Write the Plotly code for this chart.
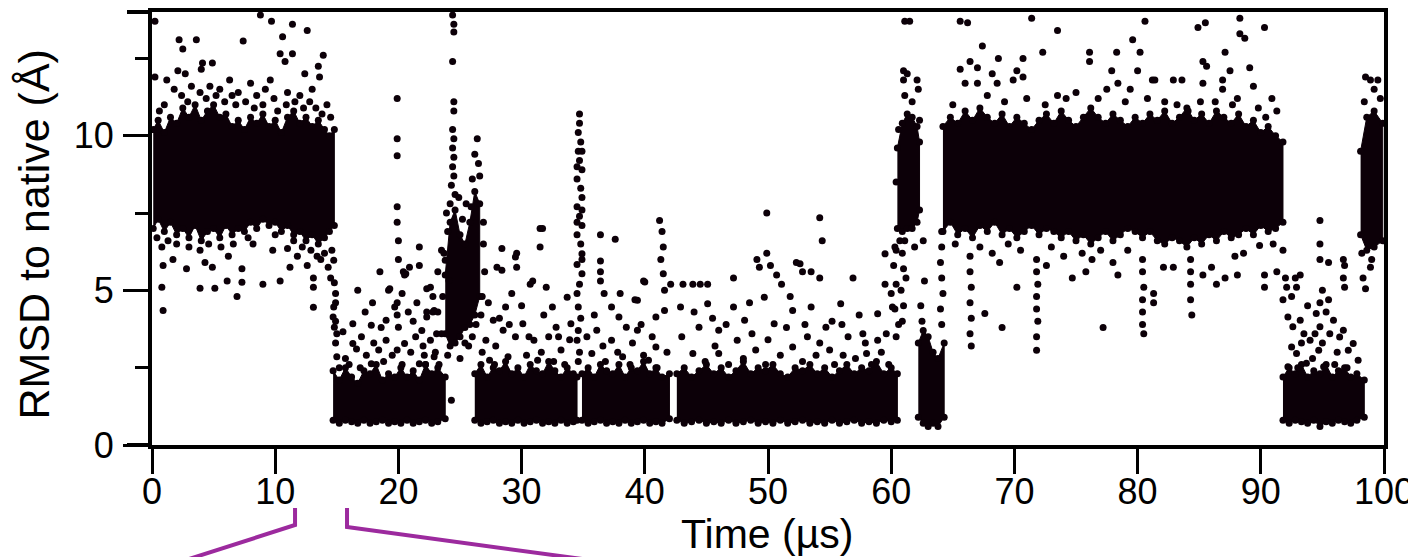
import plotly.graph_objects as go

# --- dense cores of the trajectory (time in us, RMSD envelope in A) ---
a_t = [0.1, 0.5, 1, 1.5, 2, 2.5, 3, 3.5, 4, 4.5, 5, 5.5, 6, 6.5, 7, 7.5, 8, 8.5, 9, 9.5, 10,
       10.5, 11, 11.5, 12, 12.5, 13, 13.5, 14, 14.4, 14.8]
a_hi = [10.2, 10.5, 10.1, 10.6, 10.4, 10.9, 10.6, 11.0, 10.5, 10.8, 11.0, 10.6, 10.7, 10.3, 10.5, 10.2,
        10.6, 10.4, 10.7, 10.3, 10.5, 10.1, 10.6, 10.8, 10.4, 10.6, 10.3, 10.5, 10.2, 10.0, 10.2]
a_lo = [7.0, 7.3, 6.9, 7.2, 6.8, 7.0, 6.7, 7.1, 6.6, 6.9, 7.0, 6.7, 7.1, 6.8, 7.0, 6.9,
        7.2, 7.0, 7.3, 7.1, 7.2, 6.9, 7.1, 6.8, 6.9, 6.6, 6.8, 6.5, 6.7, 6.9, 7.1]

b_t = [14.7, 15.2, 15.7, 16.2, 16.7, 17.2, 17.7, 18.2, 18.7, 19.2, 19.7, 20.2, 20.7, 21.2, 21.7,
       22.2, 22.7, 23.2, 23.8]
b_hi = [2.4, 2.1, 2.5, 2.2, 2.0, 2.4, 2.3, 2.6, 2.1, 2.3, 2.2, 2.5, 2.2, 2.4, 2.1, 2.6, 2.3, 2.5, 2.2]
b_lo = [0.8, 0.7, 0.8, 0.75, 0.7, 0.8, 0.7, 0.75, 0.8, 0.7, 0.75, 0.7, 0.8, 0.7, 0.75, 0.8, 0.7, 0.75, 0.85]

p_t = [23.8, 24.2, 24.6, 25.0, 25.4, 25.8, 26.2, 26.6]
p_hi = [5.5, 7.2, 7.6, 6.8, 6.5, 7.2, 8.2, 7.8]
p_lo = [3.6, 3.2, 3.3, 3.5, 3.8, 3.9, 4.2, 4.8]

c_t = [26.2, 26.7, 27.2, 27.7, 28.2, 28.7, 29.2, 29.7, 30.2, 30.7, 31.2, 31.7, 32.2, 32.7, 33.2,
       33.7, 34.2, 34.5]
c_hi = [2.3, 2.6, 2.2, 2.5, 2.4, 2.7, 2.3, 2.5, 2.2, 2.6, 2.4, 2.3, 2.7, 2.4, 2.2, 2.5, 2.3, 2.2]
c_lo = [0.8, 0.7, 0.75, 0.8, 0.7, 0.75, 0.7, 0.8, 0.7, 0.75, 0.8, 0.7, 0.75, 0.7, 0.8, 0.7, 0.75, 0.8]

d_t = [34.9, 35.4, 35.9, 36.4, 36.9, 37.4, 37.9, 38.4, 38.9, 39.4, 39.9, 40.4, 40.9, 41.4, 42.0]
d_hi = [2.3, 2.5, 2.2, 2.6, 2.4, 2.3, 2.6, 2.2, 2.5, 2.4, 2.7, 2.3, 2.5, 2.2, 2.3]
d_lo = [0.8, 0.7, 0.75, 0.8, 0.7, 0.75, 0.7, 0.8, 0.7, 0.75, 0.8, 0.7, 0.75, 0.7, 0.85]

e_t = [42.6, 43.2, 43.8, 44.4, 45.0, 45.6, 46.2, 46.8, 47.4, 48.0, 48.6, 49.2, 49.8, 50.4, 51.0,
       51.6, 52.2, 52.8, 53.4, 54.0, 54.6, 55.2, 55.8, 56.4, 57.0, 57.6, 58.2, 58.8, 59.4, 60.0, 60.5]
e_hi = [2.3, 2.5, 2.2, 2.4, 2.6, 2.3, 2.5, 2.2, 2.4, 2.7, 2.3, 2.5, 2.4, 2.6, 2.3, 2.2,
        2.5, 2.4, 2.6, 2.3, 2.5, 2.2, 2.4, 2.6, 2.3, 2.5, 2.4, 2.7, 2.3, 2.5, 2.3]
e_lo = [0.8, 0.7, 0.75, 0.8, 0.7, 0.75, 0.7, 0.8, 0.7, 0.75, 0.8, 0.7, 0.75, 0.7, 0.8, 0.7,
        0.75, 0.8, 0.7, 0.75, 0.7, 0.8, 0.7, 0.75, 0.8, 0.7, 0.75, 0.7, 0.8, 0.75, 0.8]

s_t = [60.5, 60.9, 61.3, 61.7, 62.1, 62.3]
s_hi = [9.6, 10.4, 10.7, 10.6, 10.3, 9.8]
s_lo = [7.0, 6.9, 7.0, 7.0, 7.2, 7.6]

g1_t = [62.2, 62.6, 63.0, 63.4, 63.8, 64.3]
g1_hi = [3.3, 3.7, 3.5, 3.0, 2.8, 3.3]
g1_lo = [0.9, 0.7, 0.6, 0.7, 0.6, 0.9]

f_t = [64.2, 64.8, 65.4, 66.0, 66.6, 67.2, 67.8, 68.4, 69.0, 69.6, 70.2, 70.8, 71.4, 72.0, 72.6,
       73.2, 73.8, 74.4, 75.0, 75.6, 76.2, 76.8, 77.4, 78.0, 78.6, 79.2, 79.8, 80.4, 81.0, 81.6,
       82.2, 82.8, 83.4, 84.0, 84.6, 85.2, 85.8, 86.4, 87.0, 87.6, 88.2, 88.8, 89.4, 90.0, 90.6,
       91.2, 91.8]
f_hi = [10.3, 10.6, 10.4, 10.8, 10.5, 10.9, 10.6, 10.4, 10.7, 10.3, 10.6, 10.4, 10.2, 10.5, 10.7,
        10.4, 10.8, 10.5, 10.3, 10.6, 10.9, 10.6, 10.4, 10.7, 10.5, 10.3, 10.6, 10.4, 10.7, 10.5,
        10.8, 10.4, 10.6, 10.9, 10.5, 10.7, 10.4, 10.8, 10.6, 10.4, 10.7, 10.3, 10.5, 10.1, 10.3,
        10.0, 9.8]
f_lo = [6.9, 7.2, 6.8, 7.0, 6.7, 7.1, 6.9, 7.2, 6.8, 7.0, 6.7, 6.9, 7.1, 6.8, 7.0,
        6.9, 6.7, 6.9, 6.6, 6.8, 6.5, 6.7, 6.9, 6.6, 6.8, 7.0, 6.9, 6.7, 6.9, 6.6,
        6.5, 6.7, 6.6, 6.4, 6.7, 6.5, 6.8, 6.6, 6.9, 6.7, 6.8, 7.0, 6.8, 7.1, 6.9,
        7.0, 7.2]

g_t = [91.8, 92.3, 92.8, 93.3, 93.8, 94.3, 94.8, 95.3, 95.8, 96.3, 96.8, 97.3, 97.8, 98.4]
g_hi = [2.2, 2.5, 2.3, 2.6, 2.2, 2.4, 2.3, 2.6, 2.2, 2.4, 2.5, 2.2, 2.3, 2.1]
g_lo = [0.8, 0.7, 0.8, 0.75, 0.7, 0.8, 0.6, 0.75, 0.7, 0.8, 0.75, 0.7, 0.8, 0.9]

h_t = [98.1, 98.6, 99.2, 99.9]
h_hi = [9.5, 10.6, 10.8, 10.4]
h_lo = [6.8, 6.3, 6.4, 6.6]

# --- individual frames outside the dense cores (time, RMSD) ---
dots_a = [(0.24, 13.7), (2.2, 13.1), (3.6, 13.1), (2.5, 12.8), (7.4, 13.06), (8.8, 13.9), (9.7, 13.7),
          (11.4, 13.6), (12.6, 13.4), (10.6, 13.2), (10.4, 12.65), (11.4, 12.65), (10.8, 12.4),
          (13.9, 12.6), (13.5, 12.25), (4.1, 12.35), (4.9, 12.35), (4.0, 12.15), (2.1, 12.1),
          (2.7, 12.0), (12.4, 12.0), (13.6, 11.9), (1.2, 11.8), (6.3, 11.8), (8.0, 11.7), (9.6, 11.8),
          (0.24, 11.9), (1.8, 11.5), (3.2, 11.6), (5.5, 11.5), (7.0, 11.4), (8.5, 11.3), (9.2, 11.5),
          (11.0, 11.4), (12.0, 11.3), (13.0, 11.5), (14.2, 11.0), (14.5, 10.6), (0.6, 10.8), (6.5, 11.3),
          (1.0, 11.0), (2.4, 11.3), (2.9, 11.1), (3.9, 11.4), (4.4, 11.2), (4.7, 11.6), (5.2, 11.3),
          (5.9, 11.1), (6.8, 11.0), (7.6, 11.1), (8.3, 10.9), (9.0, 11.0), (9.9, 11.2), (10.2, 10.8),
          (10.9, 11.0), (11.6, 11.1), (12.3, 10.9), (12.8, 11.1), (13.3, 10.9), (13.8, 10.7),
          (0.8, 6.4), (1.7, 6.0), (0.9, 5.8), (0.8, 5.1), (0.9, 4.35), (2.8, 5.7), (3.9, 6.3), (4.3, 5.9),
          (4.9, 5.75), (3.9, 5.07), (5.1, 5.07), (6.2, 6.1), (6.1, 5.3), (6.9, 4.8), (7.3, 5.7),
          (7.3, 5.26), (9.0, 5.2), (10.4, 5.3), (11.2, 5.75), (11.0, 6.35), (11.8, 6.1), (12.6, 5.8),
          (13.1, 5.4), (13.1, 5.1), (13.1, 4.45), (13.4, 6.1), (2.0, 6.5), (5.6, 6.4), (8.2, 6.5),
          (9.8, 6.3), (12.2, 6.4), (14.0, 6.2), (14.6, 6.3), (0.4, 6.7), (1.3, 6.6), (3.0, 6.4),
          (4.6, 6.5), (6.6, 6.5), (7.8, 6.7), (10.0, 6.8), (11.5, 6.6), (12.9, 6.3), (13.7, 6.0),
          (14.3, 5.75), (14.5, 5.4), (14.8, 5.25), (14.9, 4.9), (14.9, 4.6), (14.75, 5.97), (14.75, 4.46),
          (14.9, 4.0), (15.0, 3.6), (14.9, 3.3), (15.0, 2.85), (15.2, 2.5), (14.7, 4.14), (14.8, 3.81)]

dots_b = [(16.7, 5.0), (18.5, 5.6), (19.2, 5.0), (19.9, 11.2), (19.9, 9.9), (19.9, 9.35), (19.9, 7.7),
          (19.9, 7.2), (20.0, 6.6), (20.0, 6.0), (20.4, 5.6), (19.9, 4.6), (19.9, 4.2),
          (17.3, 4.3), (19.3, 5.05), (17.8, 3.87), (16.3, 3.92), (15.5, 3.66), (15.7, 2.8), (16.9, 2.5),
          (17.8, 2.63), (19.0, 3.39), (19.0, 4.03), (19.7, 4.46), (20.0, 3.81), (20.5, 3.28),
          (20.6, 5.54), (20.9, 5.75), (21.7, 6.4), (21.7, 5.8), (21.7, 2.63), (22.3, 5.05), (22.3, 4.14),
          (22.9, 4.35), (22.6, 3.39), (22.9, 2.85), (23.5, 3.6), (23.8, 5.97), (24.1, 5.32), (21.4, 3.5),
          (19.9, 3.07), (18.4, 3.07), (16.3, 3.28), (20.5, 5.5), (22.6, 5.1), (22.8, 4.8), (22.3, 4.3),
          (22.8, 4.3), (23.2, 4.3), (17.0, 3.5), (18.0, 3.3), (18.8, 2.7), (19.5, 2.9), (20.3, 2.6),
          (21.0, 3.0), (21.2, 4.0), (22.0, 3.2), (22.2, 2.6), (23.0, 3.0), (23.3, 2.6), (16.0, 2.6),
          (16.6, 3.1), (17.4, 2.9), (20.8, 4.3), (21.9, 3.7), (17.9, 4.6), (18.6, 3.8), (20.3, 4.9),
          (21.5, 4.6), (22.1, 2.9), (23.1, 3.6)]

dots_p = [(24.4, 13.9), (24.5, 13.6), (24.5, 13.35), (24.4, 12.4), (24.5, 11.1), (24.5, 10.8),
          (24.4, 10.2), (24.5, 9.9), (24.4, 9.6), (24.5, 9.3), (24.4, 9.0), (24.5, 8.7),
          (24.3, 8.4), (24.6, 8.1), (24.2, 7.8), (23.9, 7.5), (24.0, 6.9), (23.7, 6.2), (23.6, 4.8),
          (26.4, 9.9), (26.5, 9.1), (26.2, 9.4), (26.6, 8.7), (26.0, 8.6), (23.5, 6.3), (23.2, 5.6),
          (24.9, 8.0), (25.5, 7.8), (25.2, 7.3), (25.9, 7.7), (26.9, 7.2), (26.9, 6.5), (27.0, 5.6),
          (26.7, 4.2), (24.3, 1.45), (25.0, 2.8), (25.7, 3.2), (26.0, 3.5), (24.0, 2.9), (25.4, 3.3),
          (26.3, 3.9), (26.8, 4.8)]

dots_c = [(28.4, 6.35), (28.0, 5.75), (29.6, 6.2), (29.6, 5.75), (31.5, 7.0), (31.7, 7.0), (31.5, 6.4),
          (30.9, 5.3), (32.0, 5.1), (27.1, 3.39), (27.7, 4.03), (28.4, 5.65), (28.7, 4.46), (29.5, 6.08),
          (30.1, 3.92), (30.7, 5.2), (31.0, 3.39), (32.5, 4.46), (32.8, 3.81), (33.2, 3.07), (33.7, 4.78),
          (34.0, 3.92), (28.9, 2.85), (27.4, 2.74), (31.3, 2.74), (32.2, 3.5), (29.5, 3.5), (28.5, 3.71),
          (26.8, 3.0), (27.9, 3.2), (29.0, 3.9), (30.4, 2.9), (31.6, 3.0), (32.6, 2.7), (33.5, 2.6),
          (33.9, 3.4), (30.0, 4.5), (27.3, 4.6), (29.2, 4.9), (27.8, 2.6), (30.6, 3.5), (31.8, 4.2),
          (33.0, 3.5), (28.2, 4.1)]

dots_35 = [(34.7, 10.7), (34.7, 10.4), (34.6, 10.1), (34.8, 9.8), (34.6, 9.5), (34.7, 9.2), (34.9, 8.9),
           (34.5, 8.6), (34.8, 8.3), (34.9, 8.0), (34.5, 7.7), (34.7, 7.4), (34.9, 7.1), (34.5, 6.8),
           (34.8, 6.5), (34.9, 6.18), (34.5, 5.84), (34.9, 5.54), (34.7, 5.2), (34.5, 4.9), (34.6, 4.46),
           (34.8, 4.1), (34.6, 3.7), (34.5, 3.39), (34.7, 3.0), (34.6, 2.7), (34.9, 9.5), (34.5, 9.0),
           (34.9, 7.6), (34.5, 7.2), (34.9, 6.0)]

dots_d = [(36.4, 6.8), (37.6, 6.65), (36.4, 5.95), (36.4, 5.6), (36.4, 5.3), (39.9, 5.3), (39.2, 4.7),
          (41.2, 7.26), (36.7, 4.9), (37.3, 4.46), (37.9, 4.14), (38.5, 3.81), (39.4, 4.68), (39.4, 3.71),
          (40.0, 5.27), (36.1, 3.71), (37.3, 3.39), (35.7, 2.96), (38.2, 2.85), (40.9, 4.14), (41.5, 6.4),
          (41.5, 5.54), (41.6, 5.0), (41.6, 4.35), (40.9, 3.17), (40.3, 2.74), (41.4, 6.9), (41.3, 6.0),
          (35.3, 3.5), (36.8, 2.7), (37.8, 3.0), (38.8, 2.6), (39.0, 3.3), (39.9, 2.9), (41.0, 2.5),
          (41.8, 3.0), (35.9, 4.2), (38.0, 4.9), (36.6, 3.2), (39.7, 3.9), (40.6, 3.5)]

dots_e = [(49.9, 7.5), (54.2, 7.35), (54.4, 6.6), (43.1, 5.2), (43.9, 5.2), (44.5, 5.2), (45.1, 5.2),
          (47.2, 5.4), (49.1, 6.0), (49.9, 6.2), (50.2, 5.8), (50.7, 5.5), (52.3, 5.9), (52.8, 5.6),
          (53.5, 5.6), (54.2, 5.4), (56.9, 5.4), (42.1, 5.2), (42.9, 4.46), (44.4, 3.81), (45.1, 4.57),
          (46.0, 3.71), (47.2, 4.46), (48.1, 4.03), (49.3, 5.75), (51.1, 5.2), (49.7, 4.78), (50.5, 3.92),
          (52.0, 4.35), (52.6, 5.86), (53.5, 4.46), (54.7, 3.81), (55.9, 4.57), (57.7, 3.6), (58.9, 4.24),
          (59.5, 5.2), (59.5, 6.18), (60.1, 4.46), (46.0, 2.96), (49.0, 3.07), (52.0, 3.17),
          (55.0, 3.07), (58.0, 2.96), (43.9, 2.96), (47.5, 3.39), (53.2, 3.5), (56.5, 3.5), (58.9, 3.39),
          (43.0, 3.5), (44.9, 2.7), (45.7, 3.2), (46.8, 2.6), (48.0, 2.8), (48.7, 3.6), (49.8, 2.6),
          (51.0, 2.9), (51.5, 3.8), (52.8, 2.7), (53.9, 2.9), (54.2, 3.3), (55.4, 2.6), (56.0, 3.9),
          (57.1, 2.8), (57.4, 4.2), (58.4, 2.6), (59.2, 3.0), (59.8, 2.6), (45.5, 4.1), (48.5, 4.6),
          (51.8, 4.8), (55.2, 4.0), (44.0, 4.3), (46.6, 3.9), (50.0, 3.4), (53.0, 3.9), (56.1, 2.9),
          (57.9, 3.3), (59.6, 3.6)]

dots_s = [(61.5, 13.7), (61.1, 13.7), (61.0, 12.1), (61.0, 11.8), (61.1, 11.3), (61.3, 12.0),
          (62.1, 11.8), (62.2, 11.5), (61.7, 11.1), (60.6, 10.2), (62.3, 10.5), (60.4, 8.5),
          (60.4, 6.3), (60.3, 6.4), (60.2, 5.8), (60.4, 5.2),
          (60.0, 4.9), (60.3, 4.4), (60.6, 3.9), (60.4, 3.5), (60.9, 6.2), (61.0, 5.7), (60.8, 5.0),
          (61.0, 4.5), (61.1, 6.6), (60.7, 6.6), (61.2, 5.4), (60.9, 4.0), (62.7, 5.3), (62.6, 6.6),
          (61.9, 6.4), (62.4, 4.5), (62.5, 4.0), (64.1, 6.9), (64.1, 6.4), (64.0, 5.9), (64.1, 5.4),
          (64.2, 4.9), (64.0, 4.4), (64.1, 3.9)]

dots_f = [(65.6, 13.7), (66.2, 13.65), (71.4, 13.8), (73.5, 13.4), (80.6, 13.7), (67.4, 12.9),
          (68.7, 12.5), (70.7, 12.5), (72.3, 12.7), (66.4, 12.4), (65.6, 12.15), (67.0, 12.2),
          (68.2, 12.0), (70.2, 12.1), (70.7, 11.9), (76.1, 12.7), (76.1, 12.4), (78.3, 12.7),
          (79.6, 13.1), (80.2, 12.7), (77.9, 12.1), (80.0, 12.1), (66.0, 11.7), (67.0, 11.7),
          (73.5, 11.3), (68.6, 11.7), (69.9, 11.8), (78.4, 11.7), (79.4, 11.5), (81.2, 11.8),
          (84.9, 13.5), (85.5, 13.65), (88.3, 13.8), (88.3, 13.3), (88.7, 13.15), (90.3, 13.5),
          (87.1, 12.7), (85.3, 12.4), (85.6, 12.25), (89.1, 12.2), (87.5, 12.1), (81.4, 11.8),
          (82.9, 11.8), (83.6, 11.8), (85.3, 11.7), (86.9, 11.8), (86.9, 11.5), (89.4, 11.6),
          (88.1, 11.2), (90.9, 11.2), (91.3, 10.8), (85.1, 11.1), (86.3, 11.1), (83.2, 11.0),
          (84.1, 10.8), (65.0, 11.0), (67.8, 11.3), (69.2, 11.1), (71.0, 11.2), (72.5, 11.0),
          (74.2, 11.2), (75.0, 11.4), (76.8, 11.2), (77.5, 11.5), (79.0, 11.1), (80.8, 11.2),
          (82.2, 11.1), (87.7, 11.0), (89.8, 10.9), (90.4, 10.6),
          (66.4, 6.1), (66.4, 5.6), (66.5, 5.1), (66.4, 4.6), (66.5, 4.1), (66.4, 3.6), (66.5, 3.2),
          (71.8, 6.0), (71.8, 5.6), (71.9, 5.2), (71.8, 4.8), (71.8, 4.4), (71.9, 4.0), (71.8, 3.5),
          (71.8, 3.06), (69.0, 3.8), (67.6, 4.25), (77.2, 3.8), (70.2, 5.1), (74.7, 5.4), (78.4, 5.5),
          (80.4, 6.0), (80.4, 5.6), (80.5, 5.1), (80.4, 4.7), (80.4, 4.3), (80.4, 3.9), (80.5, 3.6),
          (84.4, 4.2), (84.3, 6.0), (84.3, 5.6), (84.3, 5.2), (84.3, 4.7), (81.3, 4.9), (81.3, 4.6),
          (82.9, 5.75), (82.1, 5.75), (85.3, 5.5), (86.4, 5.2), (87.1, 5.4), (88.1, 5.5), (86.0, 5.75),
          (87.9, 6.1), (88.6, 6.2), (89.9, 6.45), (91.0, 6.5), (91.8, 6.3), (90.3, 5.5), (90.3, 5.1),
          (91.3, 5.6), (65.2, 6.5), (67.2, 6.4), (68.2, 6.2), (69.5, 6.5), (70.5, 6.3), (73.0, 6.4),
          (74.0, 6.1), (75.5, 6.2), (76.3, 6.0), (77.0, 6.3), (78.0, 5.9), (79.2, 6.3), (68.8, 5.9),
          (72.6, 5.8), (75.8, 5.6)]

dots_g = [(92.0, 5.4), (92.1, 5.1), (91.8, 4.7), (92.8, 5.4), (93.2, 5.5), (92.9, 5.1), (92.5, 4.8),
          (94.8, 7.26), (94.8, 6.5), (94.8, 6.0), (95.5, 5.9), (95.0, 5.0), (95.5, 4.7), (96.7, 6.0),
          (96.8, 5.8), (96.7, 5.4), (96.8, 5.1), (94.8, 4.6), (92.2, 4.14), (92.6, 3.82), (93.2, 4.03),
          (93.5, 3.6), (94.0, 3.39), (94.5, 4.25), (94.8, 3.82), (94.7, 3.06), (95.1, 2.53), (95.6, 3.6),
          (95.9, 4.03), (96.4, 3.49), (96.7, 3.71), (97.1, 3.06), (97.5, 3.28), (97.9, 2.74),
          (92.9, 2.96), (93.7, 2.64), (92.2, 2.53), (92.5, 3.17), (93.0, 2.5), (94.2, 2.8), (96.0, 2.6),
          (97.0, 2.5), (93.8, 4.5), (95.3, 4.3), (93.3, 3.3), (94.4, 3.6), (95.0, 3.3), (96.2, 3.0)]

dots_h = [(98.5, 11.9), (98.9, 11.8), (99.2, 11.5), (99.5, 11.8), (98.9, 5.75), (98.3, 5.4),
          (98.5, 5.05), (98.2, 6.2), (99.0, 6.0), (98.4, 11.1), (99.7, 11.2)]

x_ticks = [0, 10, 20, 30, 40, 50, 60, 70, 80, 90, 100]
y_ticks = [0, 5, 10]
y_minor = [2.5, 7.5, 12.5]

INK = "#0c0008"
MAGENTA = "#9c2a9e"
FONT = "Liberation Sans, Arial, sans-serif"

bands = [(a_t, a_lo, a_hi), (b_t, b_lo, b_hi), (p_t, p_lo, p_hi), (c_t, c_lo, c_hi),
         (d_t, d_lo, d_hi), (e_t, e_lo, e_hi), (s_t, s_lo, s_hi), (g1_t, g1_lo, g1_hi),
         (f_t, f_lo, f_hi), (g_t, g_lo, g_hi), (h_t, h_lo, h_hi)]

fig = go.Figure()

edge_x, edge_y = [], []
for t, lo, hi in bands:
    fig.add_trace(go.Scatter(
        x=t + t[::-1], y=hi + lo[::-1], mode="lines", fill="toself",
        fillcolor=INK, line=dict(color=INK, width=1), hoverinfo="skip", showlegend=False,
    ))
    edge_x += t + t
    edge_y += hi + lo

all_dots = dots_a + dots_b + dots_p + dots_c + dots_35 + dots_d + dots_e + dots_s + dots_f + dots_g + dots_h
fig.add_trace(go.Scatter(
    x=edge_x + [p[0] for p in all_dots],
    y=edge_y + [p[1] for p in all_dots],
    mode="markers", marker=dict(size=7, color=INK), showlegend=False,
))

axis_common = dict(
    showgrid=False, zeroline=False, showline=True, linewidth=4, linecolor="black",
    mirror=True, ticks="outside", ticklen=25, tickwidth=3, tickcolor="black",
    tickfont=dict(family=FONT, size=36, color="black"), automargin=False,
)
fig.update_xaxes(range=[0, 100], tickvals=x_ticks, ticklabelstandoff=-13, **axis_common)
fig.update_yaxes(range=[0, 14], tickvals=y_ticks, ticklabelstandoff=2,
                 minor=dict(tickvals=y_minor, ticklen=13, tickwidth=3,
                            tickcolor="black", ticks="outside"),
                 **axis_common)

# axis titles
fig.add_annotation(text="Time (\u00b5s)", x=0.499, y=-0.205, xref="paper", yref="paper",
                   xanchor="center", yanchor="middle", showarrow=False,
                   font=dict(family=FONT, size=41, color="black"))
fig.add_annotation(text="RMSD to native (\u00c5)", x=-0.0955, y=0.487, xref="paper", yref="paper",
                   xanchor="center", yanchor="middle", textangle=-90, showarrow=False,
                   font=dict(family=FONT, size=43, color="black"))

shapes = [
    # frame lines run past the left axis by one tick length
    dict(type="line", xref="paper", yref="paper", x0=-0.0203, x1=0, y0=0, y1=0,
         line=dict(color="black", width=4)),
    dict(type="line", xref="paper", yref="paper", x0=-0.0203, x1=0, y0=1, y1=1,
         line=dict(color="black", width=4)),
    # magenta zoom bracket toward the (cropped) panel below
    dict(type="path", xref="paper", yref="paper",
         path="M 0.1161,-0.1455 L 0.1161,-0.1848 L 0.0227,-0.270",
         line=dict(color=MAGENTA, width=4)),
    dict(type="path", xref="paper", yref="paper",
         path="M 0.1583,-0.1455 L 0.1583,-0.1894 L 0.3847,-0.277",
         line=dict(color=MAGENTA, width=4)),
]

# the page body adds an 8 px offset, so the figure is 8 px smaller than the window
fig.update_layout(
    width=1408, height=549,
    margin=dict(l=144, r=32, t=4, b=112),
    plot_bgcolor="white", paper_bgcolor="white",
    shapes=shapes,
)

fig.write_html("out.html")
